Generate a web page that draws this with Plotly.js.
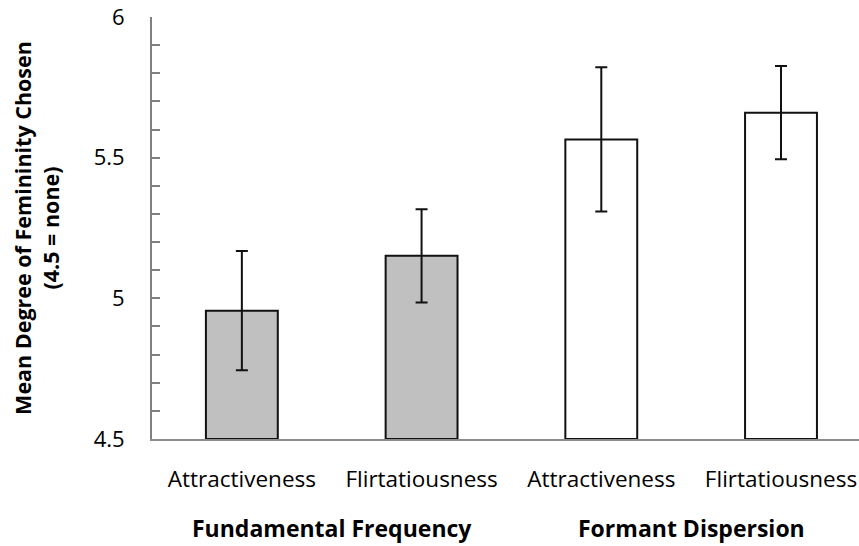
<!DOCTYPE html>
<html>
<head>
<meta charset="utf-8">
<script src="https://cdn.plot.ly/plotly-3.0.1.min.js"></script>
<style>html,body{margin:0;padding:0;background:#fff;}#chart{width:859px;height:546px;}</style>
</head>
<body>
<div id="chart"></div>
<script>
const tickLabels = ["Attractiveness", "Flirtatiousness", "Attractiveness", "Flirtatiousness"];
const groups = ["Fundamental Frequency", "Formant Dispersion"];
const groupCenters = [0.5, 2.5];
const means = [4.956, 5.151, 5.565, 5.660];
const errors = [0.212, 0.166, 0.256, 0.166];
const barColors = ["#c0c0c0", "#c0c0c0", "#ffffff", "#ffffff"];

const font = "Open Sans, sans-serif";
const idx = [0, 1, 2, 3];

const trace = {
  type: "bar",
  x: idx,
  y: means.map(v => v - 4.5),
  base: 4.5,
  width: 0.4,
  marker: { color: barColors, line: { color: "#111", width: 2 } },
  error_y: { type: "data", array: errors, visible: true, color: "#111", thickness: 2, width: 6 },
  hoverinfo: "skip"
};

const layout = {
  width: 859, height: 546,
  margin: { l: 152, r: 0, t: 17, b: 107 },
  paper_bgcolor: "#fff", plot_bgcolor: "#fff",
  showlegend: false,
  font: { family: font, color: "#000" },
  xaxis: {
    range: [-0.5, 3.434],
    tickmode: "array", tickvals: idx, ticktext: tickLabels,
    showgrid: false, zeroline: false,
    showline: true, linecolor: "#8c8c8c", linewidth: 2,
    ticks: "", ticklabelstandoff: 19,
    tickfont: { family: font, size: 22.5, color: "#000" }
  },
  yaxis: {
    range: [4.5, 6], tickvals: [4.5, 5, 5.5, 6], ticktext: ["4.5", "5", "5.5", "6"],
    showgrid: false, zeroline: false,
    showline: true, linecolor: "#808080", linewidth: 2,
    ticks: "inside", ticklen: 8, tickcolor: "#808080", tickwidth: 2,
    minor: { dtick: 0.1, ticks: "inside", ticklen: 8, tickcolor: "#808080", tickwidth: 2, showgrid: false },
    ticklabelstandoff: 21,
    tickfont: { family: font, size: 22, color: "#000" },
    title: { text: "<b>Mean Degree of Femininity Chosen<br>(4.5 = none)</b>", font: { family: font, size: 21.5, color: "#000" }, standoff: 28 }
  },
  annotations: groups.map((g, i) => ({
    text: "<b>" + g + "</b>", x: groupCenters[i], xref: "x", y: -0.21, yref: "paper",
    yanchor: "middle", xanchor: "center", showarrow: false,
    font: { family: font, size: 23, color: "#000" }
  }))
};

Plotly.newPlot("chart", [trace], layout, { staticPlot: true });
</script>
</body>
</html>
